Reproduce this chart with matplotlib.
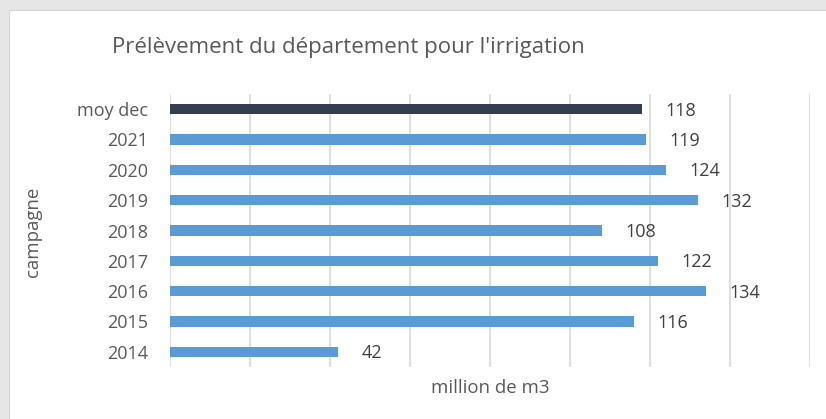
import matplotlib.pyplot as plt
from matplotlib.patches import Rectangle

# data, top row first
categories = ["moy dec", "2021", "2020", "2019", "2018", "2017", "2016", "2015", "2014"]
values = [118, 119, 124, 132, 108, 122, 134, 116, 42]
bar_colors = ["#333f50"] + ["#5b9bd5"] * 8

plt.rcParams['font.family'] = ['Open Sans', 'DejaVu Sans']
text_color = "#595959"

W, H = 826, 419
fig = plt.figure(figsize=(W / 100, H / 100), dpi=100)
fig.patch.set_facecolor("#e6e6e6")
# white chart panel (screenshot shows gray strip at top and left)
fig.patches.append(Rectangle((9 / W, 0), 1, 1 - 10 / H, transform=fig.transFigure,
                             facecolor="white", edgecolor="#d4d4d4", linewidth=0.8, zorder=-1))

ax = fig.add_axes([170 / W, 1 - 367 / H, 640 / W, 273 / H])
ax.set_facecolor("none")

pos = list(range(len(categories)))[::-1]
ax.barh(pos, values, height=0.34, color=bar_colors, zorder=3)
for p, v in zip(pos, values):
    ax.annotate(str(v), (v, p), xytext=(17, -1), textcoords="offset points",
                va="center", ha="left", fontsize=13, color="#404040")

ax.set_xlim(0, 160)
ax.set_ylim(-0.5, 8.5)
ax.set_xticks(range(0, 161, 20))
ax.set_xticklabels([])
ax.set_yticks(pos)
ax.set_yticklabels(categories, fontsize=13, color=text_color)
ax.tick_params(axis="both", length=0)
ax.tick_params(axis="y", pad=15.5)
ax.grid(axis="x", color="#d9d9d9", linewidth=1.2, zorder=0)
for s in ax.spines.values():
    s.set_visible(False)

ax.set_xlabel("million de m3", fontsize=13.4, color=text_color, labelpad=5)
fig.text(33 / W, 1 - 232 / H, "campagne", rotation=90, ha="center", va="center",
         fontsize=13.4, color=text_color)
fig.text(112 / W, 1 - 48 / H, "Prélèvement du département pour l'irrigation",
         ha="left", va="center", fontsize=16, color=text_color)

fig.savefig("out.png", dpi=100, facecolor=fig.get_facecolor())
